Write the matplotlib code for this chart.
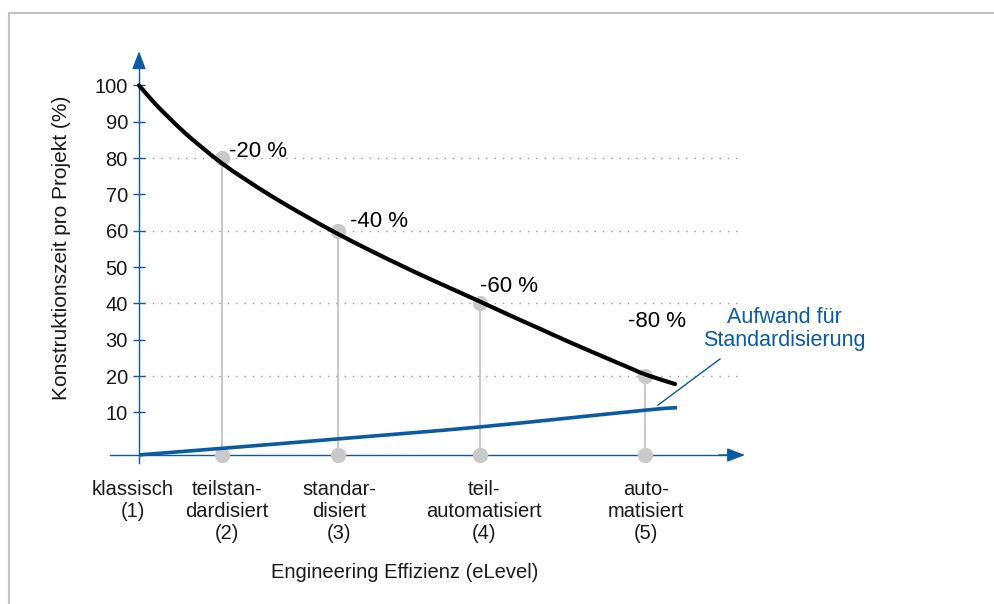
import matplotlib
matplotlib.use("Agg")
import matplotlib.pyplot as plt
from matplotlib.lines import Line2D
from matplotlib.path import Path
from matplotlib.patches import PathPatch

plt.rcParams["font.family"] = ["Liberation Sans", "DejaVu Sans"]

# eLevel categories and where they sit on the efficiency axis
CATEGORIES = [
    "klassisch\n(1)",
    "teilstan-\ndardisiert\n(2)",
    "standar-\ndisiert\n(3)",
    "teil-\nautomatisiert\n(4)",
    "auto-\nmatisiert\n(5)",
]
LEVEL_X = [0.0, 0.83, 1.99, 3.41, 5.06]
REDUCTION = [20, 40, 60, 80]  # % saved vs. classic, levels 2..5

# design time per project (%), black curve
TIME_X = [0.0, 0.16, 0.293, 0.46, 0.627, 0.827, 1.06, 1.327, 1.643, 1.977,
          2.31, 2.677, 2.943, 3.41, 3.71, 4.01, 4.243, 4.577, 4.91, 5.077, 5.36]
TIME_Y = [100, 95.0, 91.3, 86.9, 83.0, 78.6, 74.2, 69.5, 64.4, 59.3,
          54.6, 49.7, 46.3, 40.5, 36.7, 33.0, 30.1, 26.1, 22.2, 20.3, 17.8]

# effort for standardisation, blue curve
EFFORT_X = [0.0, 0.83, 1.99, 3.41, 5.06, 5.38]
EFFORT_Y = [-1.7, 0.1, 2.7, 6.0, 10.6, 11.3]

Y_TICKS = [10, 20, 30, 40, 50, 60, 70, 80, 90, 100]
GUIDES = [80, 60, 40, 20]

BLUE = "#0b5aa4"
GREY = "#c9c9c9"
TEXT = "#1a1a1a"
AXIS_Y = -1.73


def smooth_path(xs, ys):
    """Catmull-Rom through the points, as cubic bezier segments."""
    pts = list(zip(xs, ys))
    verts = [pts[0]]
    codes = [Path.MOVETO]
    for i in range(len(pts) - 1):
        p0 = pts[max(i - 1, 0)]
        p1 = pts[i]
        p2 = pts[i + 1]
        p3 = pts[min(i + 2, len(pts) - 1)]
        c1 = (p1[0] + (p2[0] - p0[0]) / 6, p1[1] + (p2[1] - p0[1]) / 6)
        c2 = (p2[0] - (p3[0] - p1[0]) / 6, p2[1] - (p3[1] - p1[1]) / 6)
        verts += [c1, c2, p2]
        codes += [Path.CURVE4] * 3
    return Path(verts, codes)


fig = plt.figure(figsize=(9.95, 6.04), dpi=100)
ax = fig.add_axes([100 / 995, (604 - 470) / 604, 700 / 995, 430 / 604])
ax.set_xlim(-0.39, 6.61)
ax.set_ylim(-5.86, 112.5)
ax.patch.set_alpha(0)

for side in ("top", "right", "bottom"):
    ax.spines[side].set_visible(False)

# y axis as a blue spine through x=0
ax.spines["left"].set_position(("data", 0))
ax.spines["left"].set_bounds(-3.9, 108)
ax.spines["left"].set_color(BLUE)
ax.spines["left"].set_linewidth(1)
ax.set_yticks(Y_TICKS)
ax.tick_params(axis="y", direction="inout", length=8, width=1, color=BLUE,
               labelsize=14.5, labelcolor=TEXT, pad=4)
ax.set_xticks([])

head = "-|>,head_length=1.1,head_width=0.42"
ax.annotate("", xy=(0, 109.4), xytext=(0, 105), annotation_clip=False,
            arrowprops=dict(arrowstyle=head, mutation_scale=10, color=BLUE,
                            lw=1, shrinkA=0, shrinkB=0))
ax.plot([-0.29, 5.9], [AXIS_Y, AXIS_Y], color=BLUE, lw=1, zorder=2)
ax.annotate("", xy=(6.06, AXIS_Y), xytext=(5.8, AXIS_Y), annotation_clip=False,
            arrowprops=dict(arrowstyle=head, mutation_scale=10, color=BLUE,
                            lw=1, shrinkA=0, shrinkB=0))

# dotted guides
for g in GUIDES:
    ax.plot([0.05, 6.0], [g, g], color="#9a9a9a", lw=1, ls=(0, (1, 5)), zorder=1)

# stems and markers per level
for x, r in zip(LEVEL_X[1:], REDUCTION):
    v = 100 - r
    ax.plot([x, x], [AXIS_Y, v], color=GREY, lw=1.5, zorder=2)
    ax.plot([x, x], [AXIS_Y, v], "o", color=GREY, ms=11, mec="none", zorder=3)

ax.add_patch(PathPatch(smooth_path(TIME_X, TIME_Y), fc="none", ec="black",
                       lw=3, capstyle="round", zorder=4))
ax.add_patch(PathPatch(smooth_path(EFFORT_X, EFFORT_Y), fc="none", ec=BLUE,
                       lw=2.6, capstyle="butt", zorder=4))

# reduction labels
label_off = [(0.07, 1.9), (0.12, 2.5), (0.0, 4.7), (-0.17, 14.9)]
for x, r, (dx, dy) in zip(LEVEL_X[1:], REDUCTION, label_off):
    ax.text(x + dx, 100 - r + dy, f"-{r} %", fontsize=16, color="black",
            ha="left", va="center", zorder=5)

# effort annotation with leader line
ax.plot([5.19, 5.81], [12.0, 24.7], color=BLUE, lw=1, zorder=4)
ax.text(6.45, 33.0, "Aufwand für\nStandardisierung", color=BLUE, fontsize=15.5,
        ha="center", va="center", linespacing=1.1)

# category labels under the x axis
cat_dx = [-0.06, 0.05, 0.01, 0.04, 0.01]
for x, name, dx in zip(LEVEL_X, CATEGORIES, cat_dx):
    ax.text(x + dx, -8.6, name, fontsize=14.5, color=TEXT, ha="center",
            va="top", linespacing=1.2)

fig.text(405 / 995, 1 - 573 / 604, "Engineering Effizienz (eLevel)",
         fontsize=14.5, color=TEXT, ha="center", va="center")
fig.text(62 / 995, 1 - 248 / 604, "Konstruktionszeit pro Projekt (%)",
         fontsize=15, color=TEXT, ha="center", va="center", rotation=90)

# thin frame along top and left edge
fig.add_artist(Line2D([9 / 995, 1], [1 - 13 / 604] * 2, color="#c4c4c4", lw=1.5))
fig.add_artist(Line2D([9 / 995] * 2, [0, 1 - 13 / 604], color="#c4c4c4", lw=1.5))

fig.savefig("out.png", dpi=100)
